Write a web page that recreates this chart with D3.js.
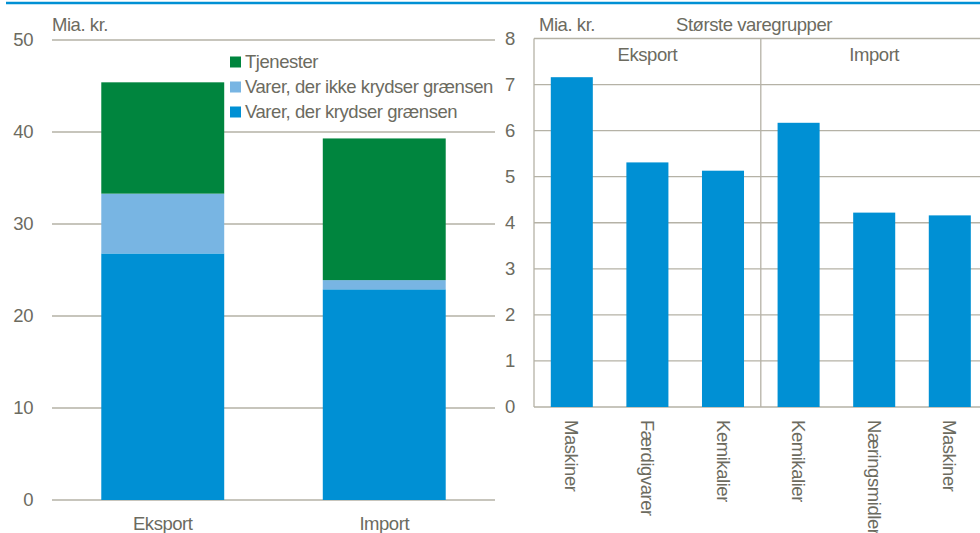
<!DOCTYPE html>
<html>
<head>
<meta charset="utf-8">
<script src="https://cdn.jsdelivr.net/npm/d3@7"></script>
<style>
  body { margin: 0; background: #fff; }
  svg { display: block; font-family: "Liberation Sans", Arial, sans-serif; }
  text { fill: #6c6b5f; font-size: 18.5px; letter-spacing: -0.45px; }
</style>
</head>
<body>
<svg id="chart" width="980" height="533"></svg>
<script>
// venstre figur: samlet handel
var categories = ["Eksport", "Import"];
var seriesNames = ["Varer, der krydser grænsen", "Varer, der ikke krydser grænsen", "Tjenester"];
var krydser = [26.8, 22.9];
var ikkeKrydser = [6.5, 1.0];
var tjenester = [12.1, 15.4];
var leftTicks = [0, 10, 20, 30, 40, 50];

// højre figur: største varegrupper
var groups = ["Eksport", "Import"];
var eksportVarer = ["Maskiner", "Færdigvarer", "Kemikalier"];
var eksportValues = [7.16, 5.31, 5.13];
var importVarer = ["Kemikalier", "Næringsmidler", "Maskiner"];
var importValues = [6.17, 4.22, 4.16];
var rightTicks = [0, 1, 2, 3, 4, 5, 6, 7, 8];

var colors = ["#0090d4", "#78b5e3", "#00853e"];
var gridColor = "#b5b2a6";

var svg = d3.select("#chart");

// blue rule at the top
svg.append("line")
	.attr("x1", 6).attr("x2", 980)
	.attr("y1", 3).attr("y2", 3)
	.attr("stroke", "#0090d4")
	.attr("stroke-width", 2.5);

// ---------- left chart ----------
var yL = d3.scaleLinear().domain([0, 50]).range([500, 40]);
var xL = d3.scaleBand().domain(categories).range([52, 495])
	.paddingInner(0.445).paddingOuter(0.2225);

var gl = svg.append("g");

gl.selectAll("line.grid").data(leftTicks).join("line")
	.attr("class", "grid")
	.attr("x1", 52).attr("x2", 495)
	.attr("y1", d => yL(d)).attr("y2", d => yL(d))
	.attr("stroke", gridColor).attr("stroke-width", 1.3);

gl.selectAll("text.ytick").data(leftTicks).join("text")
	.attr("class", "ytick")
	.attr("x", 33).attr("y", d => yL(d))
	.attr("dy", "0.35em")
	.attr("text-anchor", "end")
	.text(d => d);

var table = categories.map((c, i) => ({
	cat: c,
	[seriesNames[0]]: krydser[i],
	[seriesNames[1]]: ikkeKrydser[i],
	[seriesNames[2]]: tjenester[i]
}));
var stacked = d3.stack().keys(seriesNames)(table);

gl.selectAll("g.layer").data(stacked).join("g")
	.attr("class", "layer")
	.attr("fill", (d, i) => colors[i])
	.selectAll("rect").data(d => d).join("rect")
	.attr("x", d => xL(d.data.cat))
	.attr("width", xL.bandwidth())
	.attr("y", d => yL(d[1]))
	.attr("height", d => yL(d[0]) - yL(d[1]));

gl.selectAll("text.xcat").data(categories).join("text")
	.attr("class", "xcat")
	.attr("x", d => xL(d) + xL.bandwidth() / 2)
	.attr("y", 530)
	.attr("text-anchor", "middle")
	.text(d => d);

gl.append("text").attr("x", 52).attr("y", 31).text("Mia. kr.");

// legend (reverse order, Tjenester on top)
var legend = gl.append("g").attr("transform", "translate(230,62)");
var legItems = seriesNames.map((s, i) => ({ name: s, color: colors[i] })).reverse();
var li = legend.selectAll("g").data(legItems).join("g")
	.attr("transform", (d, i) => `translate(0,${i * 25})`);
li.append("rect")
	.attr("x", 0).attr("y", -5.5)
	.attr("width", 11).attr("height", 11)
	.attr("fill", d => d.color);
li.append("text")
	.attr("x", 15).attr("dy", "0.35em")
	.text(d => d.name);

// ---------- right chart ----------
var items = eksportVarer.map((v, i) => ({ key: "e" + i, label: v, value: eksportValues[i], group: groups[0] }))
	.concat(importVarer.map((v, i) => ({ key: "i" + i, label: v, value: importValues[i], group: groups[1] })));

var left = 534, step = 75.6;
var yR = d3.scaleLinear().domain([0, 8]).range([407, 38.5]);
var xR = d3.scaleBand().domain(items.map(d => d.key))
	.range([left, left + step * items.length])
	.paddingInner(0.444).paddingOuter(0.222);

var gr = svg.append("g");

gr.selectAll("line.grid").data(rightTicks).join("line")
	.attr("class", "grid")
	.attr("x1", left).attr("x2", 980)
	.attr("y1", d => yR(d)).attr("y2", d => yR(d))
	.attr("stroke", gridColor).attr("stroke-width", 1.3);

gr.selectAll("text.ytick").data(rightTicks).join("text")
	.attr("class", "ytick")
	.attr("x", 510).attr("y", d => yR(d))
	.attr("dy", "0.35em")
	.attr("text-anchor", "middle")
	.text(d => d);

// frame: left border and group divider
var dividers = [left, left + step * eksportVarer.length];
gr.selectAll("line.div").data(dividers).join("line")
	.attr("class", "div")
	.attr("x1", d => d).attr("x2", d => d)
	.attr("y1", yR(8)).attr("y2", yR(0))
	.attr("stroke", gridColor).attr("stroke-width", 1.3);

gr.selectAll("rect.bar").data(items).join("rect")
	.attr("class", "bar")
	.attr("x", d => xR(d.key))
	.attr("width", xR.bandwidth())
	.attr("y", d => yR(d.value))
	.attr("height", d => yR(0) - yR(d.value))
	.attr("fill", colors[0]);

gr.selectAll("text.glabel").data(groups).join("text")
	.attr("class", "glabel")
	.attr("x", (d, i) => left + step * 3 * i + step * 1.5)
	.attr("y", 61)
	.attr("text-anchor", "middle")
	.text(d => d);

gr.selectAll("text.vare").data(items).join("text")
	.attr("class", "vare")
	.attr("text-anchor", "start")
	.attr("dy", "0.35em")
	.attr("transform", d => `translate(${xR(d.key) + xR.bandwidth() / 2},420) rotate(90)`)
	.text(d => d.label);

gr.append("text").attr("x", 539).attr("y", 31).text("Mia. kr.");
gr.append("text").attr("x", 754).attr("y", 31)
	.attr("text-anchor", "middle")
	.text("Største varegrupper");
</script>
</body>
</html>
